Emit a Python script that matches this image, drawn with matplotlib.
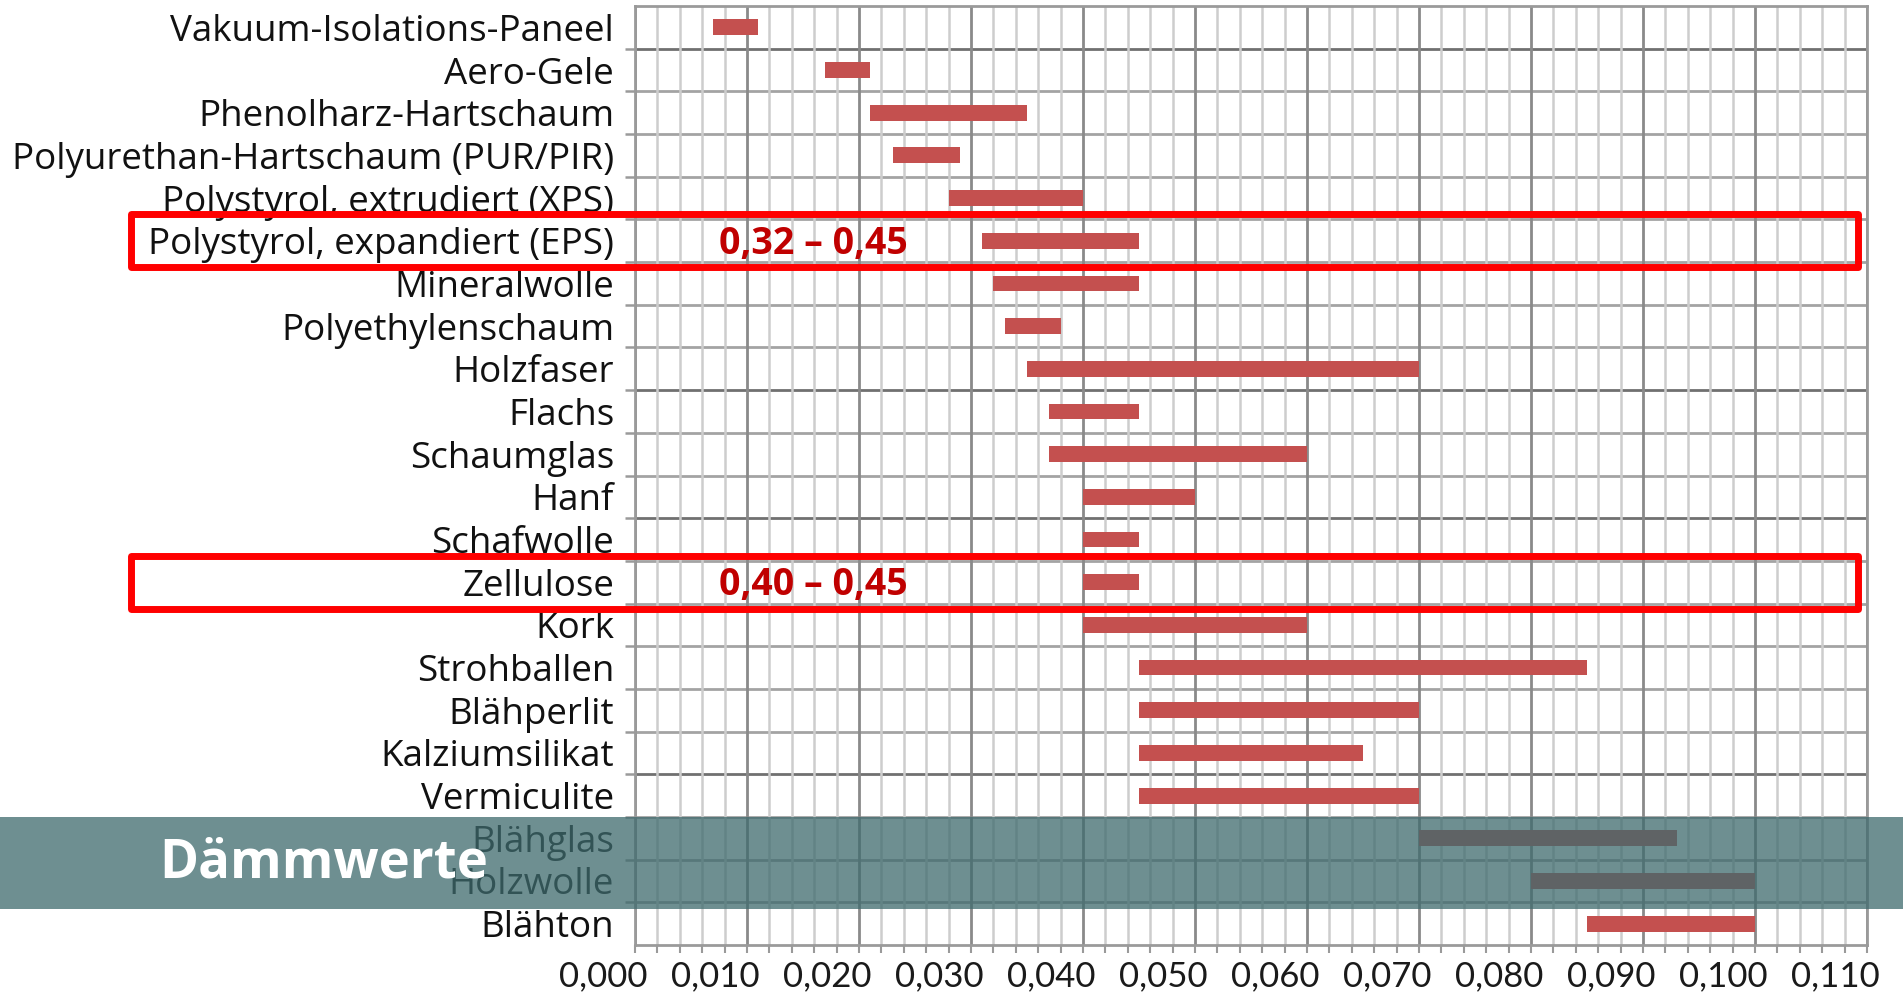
import numpy as np
import matplotlib.pyplot as plt
from matplotlib.patches import Rectangle
from matplotlib.ticker import MultipleLocator
from matplotlib.transforms import blended_transform_factory, ScaledTranslation

# Waermeleitfaehigkeit (W/mK), von - bis
materials = [
    "Vakuum-Isolations-Paneel", "Aero-Gele", "Phenolharz-Hartschaum",
    "Polyurethan-Hartschaum (PUR/PIR)", "Polystyrol, extrudiert (XPS)",
    "Polystyrol, expandiert (EPS)", "Mineralwolle", "Polyethylenschaum",
    "Holzfaser", "Flachs", "Schaumglas", "Hanf", "Schafwolle", "Zellulose",
    "Kork", "Strohballen", "Blähperlit", "Kalziumsilikat", "Vermiculite",
    "Blähglas", "Holzwolle", "Blähton",
]
lam_low = [0.007, 0.017, 0.021, 0.023, 0.028, 0.031, 0.032, 0.033, 0.035, 0.037, 0.037,
           0.040, 0.040, 0.040, 0.040, 0.045, 0.045, 0.045, 0.045, 0.070, 0.080, 0.085]
lam_high = [0.011, 0.021, 0.035, 0.029, 0.040, 0.045, 0.045, 0.038, 0.070, 0.045, 0.060,
            0.050, 0.045, 0.045, 0.060, 0.085, 0.070, 0.065, 0.070, 0.093, 0.100, 0.100]

# hervorgehobene Zeilen mit Beschriftung
highlight_rows = ["Polystyrol, expandiert (EPS)", "Zellulose"]
highlight_text = ["0,32 – 0,45", "0,40 – 0,45"]
shaded_rows = ["Blähglas", "Holzwolle"]
dark_separators = [1, 9, 12, 18]

xticks = np.round(np.arange(0, 0.1101, 0.01), 3)
xtick_labels = ["0,000", "0,010", "0,020", "0,030", "0,040", "0,050",
                "0,060", "0,070", "0,080", "0,090", "0,100", "0,110"]

W, H = 1903, 994
fig = plt.figure(figsize=(W / 100, H / 100), dpi=100)
ax = fig.add_axes([635 / W, 1 - 945 / H, (1867 - 635) / W, (945 - 6) / H])

y = np.arange(len(materials))
lo = np.array(lam_low)
hi = np.array(lam_high)
ax.barh(y, hi - lo, left=lo, height=0.37, color="#c4504f", zorder=3)

ax.set_xlim(0, 0.110)
ax.set_ylim(len(materials) - 0.5, -0.5)

# vertikales Raster
ax.set_xticks(xticks)
ax.set_xticklabels(xtick_labels, fontsize=25, family="Lato", color="#1a1a1a")
ax.xaxis.set_minor_locator(MultipleLocator(0.002))
ax.grid(which="major", axis="x", color="#8a8a8a", lw=2.0, zorder=1)
ax.grid(which="minor", axis="x", color="#cdcdcd", lw=1.8, zorder=1)
ax.tick_params(axis="x", which="both", length=6, color="#9a9a9a", width=1.5, pad=5)
shift = ScaledTranslation(-32 / 100, 0, fig.dpi_scale_trans)
for lab in ax.get_xticklabels():
    lab.set_transform(lab.get_transform() + shift)

# Zeilentrenner
ax.set_yticks(y)
ax.set_yticklabels(materials, fontsize=26.5, family="Open Sans", color="#111111")
ax.set_yticks(np.arange(0.5, len(materials) - 1, 1), minor=True)
ax.tick_params(axis="y", which="major", length=0, pad=15)
ax.tick_params(axis="y", which="minor", length=7, color="#9a9a9a", width=1.8)
for k in range(1, len(materials)):
    c = "#707070" if k in dark_separators else "#a3a3a3"
    ax.axhline(k - 0.5, color=c, lw=2.0, zorder=1)

for s in ax.spines.values():
    s.set_color("#9a9a9a")
    s.set_linewidth(2)

# rote Rahmen mit Werten
bt = blended_transform_factory(fig.transFigure, ax.transData)
for name, txt in zip(highlight_rows, highlight_text):
    i = materials.index(name)
    box = Rectangle((131 / W, i - 0.62), (1858 - 131) / W, 1.24, transform=bt,
                    fill=False, edgecolor="#ff0000", lw=5, joinstyle="round",
                    clip_on=False)
    fig.add_artist(box)
    ax.text(0.0159, i + 0.07, txt, color="#c00000", fontsize=27, family="Open Sans",
            fontweight="bold", ha="center", va="center", zorder=5)

# halbtransparenter Balken mit Titel
i0 = materials.index(shaded_rows[0])
i1 = materials.index(shaded_rows[-1])
band = Rectangle((0, i0 - 0.5), 1, (i1 - i0) + 1.15, transform=bt,
                 facecolor="#3e6a6d", alpha=0.75, edgecolor="none", clip_on=False)
fig.add_artist(band)
fig.text(159 / W, 1 - 864 / H, "Dämmwerte", color="white", fontsize=38,
         family="Open Sans", fontweight="bold", ha="left", va="center", zorder=6)

fig.savefig("out.png", dpi=100)
